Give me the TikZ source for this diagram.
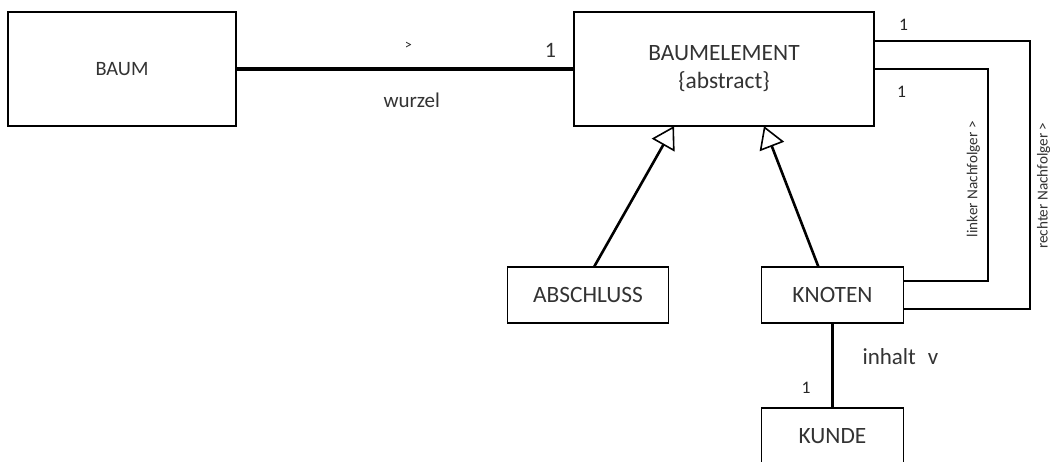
\documentclass[tikz,border=0pt]{standalone}
\usepackage{fontspec}
\setmainfont{Carlito}
\usetikzlibrary{arrows.meta,positioning}
\tikzset{
	outer sep=0pt,
	klasse/.style ={rectangle, draw, line width=0.8pt, text=black!80, align=center, font=\fontsize{11.7}{14}\selectfont},
	assoz/.style = {line width=1.3pt},
	gen/.style = {line width=1.3pt, -{Triangle[open, length=11pt, width=13pt, line width=0.8pt]}},
	el/.style = {inner sep=1pt, text=black!80, font=\fontsize{11}{13}\selectfont},
	klein/.style = {inner sep=1pt, text=black!85, font=\fontsize{8.8}{10}\selectfont},
	dreh/.style = {rotate=90, inner sep=4pt, text=black!80, font=\fontsize{7.6}{9}\selectfont}
}
\begin{document}
\begin{tikzpicture}[x=0.5pt,y=-0.5pt]
	\useasboundingbox[fill=white] (0,0) rectangle (1050,461);
	\clip (0,0) rectangle (1050,461);
	\node[klasse, minimum width=114pt, minimum height=57pt, font=\fontsize{10.2}{12}\selectfont] (1) at (122,69) {BAUM};
	\node[klasse, minimum width=150pt, minimum height=57pt] (2) [right=169pt of 1] {BAUMELEMENT\\\{abstract\}};
	\node[klasse, minimum width=80.5pt, minimum height=28pt] (3) [below=70.5pt of 2, xshift=-68pt] {ABSCHLUSS};
	\node[klasse, minimum width=71pt, minimum height=28pt] (4) [right=46.5pt of 3] {KNOTEN};
	\node[klasse, minimum width=71pt, minimum height=28pt] (5) [below=42.5pt of 4] {KUNDE};

	\draw[line width=2pt] (1) -- node[klein, pos=.51, above=9pt, font=\fontsize{7}{8}\selectfont] {>} node[el, pos=.52, below=11pt, font=\fontsize{10.5}{12}\selectfont] {wurzel} node[el, pos=.93, above=5pt] {1} (2);
	\draw[gen] ([xshift=3pt]3.north) -- ([xshift=-25pt]2.south);
	\draw[gen] ([xshift=-7pt]4.north) -- ([xshift=20pt]2.south);
	\draw[assoz] ([yshift=14pt]2.east) node[klein, above right=4.5pt and 11.5pt] {1} -- ++(78pt,0) |- node[dreh, pos=.27, anchor=north, inner sep=3.5pt] {rechter Nachfolger >} ([yshift=-7pt]4.east);
	\draw[assoz] (2.east) node[klein, below right=7.5pt and 10.5pt] {1} -- ++(57pt,0) |- node[dreh, pos=.26, anchor=south] {linker Nachfolger >} ([yshift=7pt]4.east);
	\draw[assoz] (4) -- node[el, pos=.4, right=14pt, font=\fontsize{11.5}{13}\selectfont] {inhalt\hspace{6pt}v} node[klein, pos=.76, left=10pt] {1} (5);
\end{tikzpicture}
\end{document}
